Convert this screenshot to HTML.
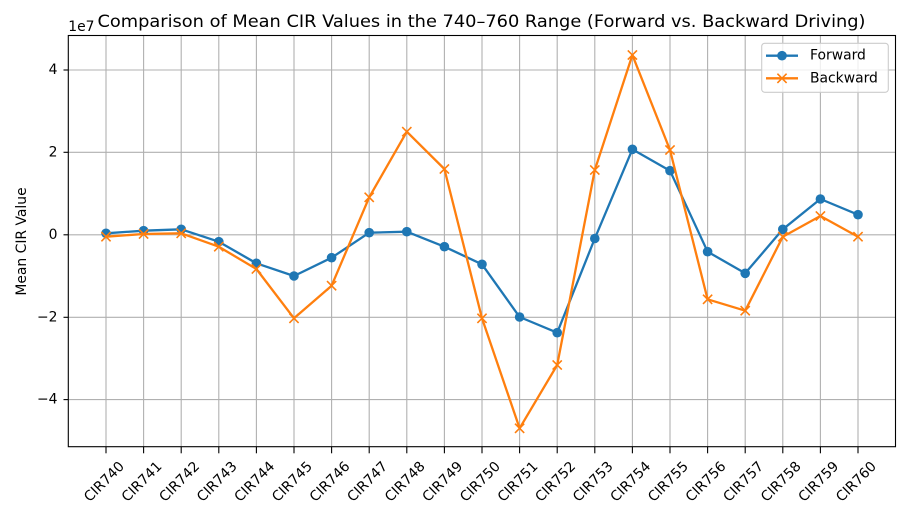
<!DOCTYPE html>
<html><head><meta charset="utf-8"><style>
html,body{margin:0;padding:0;background:#fff;}
svg{display:block;}
text{font-family:"DejaVu Sans","Liberation Sans",sans-serif;fill:#000;}
</style></head><body>
<svg width="916" height="527" viewBox="0 0 916 527" xmlns="http://www.w3.org/2000/svg">
<rect x="0" y="0" width="916" height="527" fill="#fff"/>
<!-- grid -->
<g stroke="#b0b0b0" stroke-width="1.1">
<line x1="106" y1="35.5" x2="106" y2="446.7"/>
<line x1="143.6" y1="35.5" x2="143.6" y2="446.7"/>
<line x1="181.2" y1="35.5" x2="181.2" y2="446.7"/>
<line x1="218.8" y1="35.5" x2="218.8" y2="446.7"/>
<line x1="256.4" y1="35.5" x2="256.4" y2="446.7"/>
<line x1="294" y1="35.5" x2="294" y2="446.7"/>
<line x1="331.6" y1="35.5" x2="331.6" y2="446.7"/>
<line x1="369.2" y1="35.5" x2="369.2" y2="446.7"/>
<line x1="406.8" y1="35.5" x2="406.8" y2="446.7"/>
<line x1="444.4" y1="35.5" x2="444.4" y2="446.7"/>
<line x1="482" y1="35.5" x2="482" y2="446.7"/>
<line x1="519.6" y1="35.5" x2="519.6" y2="446.7"/>
<line x1="557.2" y1="35.5" x2="557.2" y2="446.7"/>
<line x1="594.8" y1="35.5" x2="594.8" y2="446.7"/>
<line x1="632.4" y1="35.5" x2="632.4" y2="446.7"/>
<line x1="670" y1="35.5" x2="670" y2="446.7"/>
<line x1="707.6" y1="35.5" x2="707.6" y2="446.7"/>
<line x1="745.2" y1="35.5" x2="745.2" y2="446.7"/>
<line x1="782.8" y1="35.5" x2="782.8" y2="446.7"/>
<line x1="820.4" y1="35.5" x2="820.4" y2="446.7"/>
<line x1="858" y1="35.5" x2="858" y2="446.7"/>
<line x1="68.3" y1="70" x2="895.5" y2="70"/>
<line x1="68.3" y1="152.3" x2="895.5" y2="152.3"/>
<line x1="68.3" y1="234.8" x2="895.5" y2="234.8"/>
<line x1="68.3" y1="317.3" x2="895.5" y2="317.3"/>
<line x1="68.3" y1="399.6" x2="895.5" y2="399.6"/>
</g>
<!-- Forward -->
<polyline fill="none" stroke="#1f77b4" stroke-width="2.3" stroke-linejoin="round" points="106,233.3 143.6,230.7 181.2,229.3 218.8,241.7 256.4,263.3 294,276 331.6,257.7 369.2,232.7 406.8,231.7 444.4,246.7 482,264.3 519.6,317 557.2,332.7 594.8,238.5 632.4,149.3 670,170.7 707.6,251.7 745.2,273.3 782.8,229.3 820.4,199 858,214.7"/>
<g fill="#1f77b4">
<circle cx="106" cy="233.3" r="4.8"/><circle cx="143.6" cy="230.7" r="4.8"/><circle cx="181.2" cy="229.3" r="4.8"/><circle cx="218.8" cy="241.7" r="4.8"/><circle cx="256.4" cy="263.3" r="4.8"/><circle cx="294" cy="276" r="4.8"/><circle cx="331.6" cy="257.7" r="4.8"/><circle cx="369.2" cy="232.7" r="4.8"/><circle cx="406.8" cy="231.7" r="4.8"/><circle cx="444.4" cy="246.7" r="4.8"/><circle cx="482" cy="264.3" r="4.8"/><circle cx="519.6" cy="317" r="4.8"/><circle cx="557.2" cy="332.7" r="4.8"/><circle cx="594.8" cy="238.5" r="4.8"/><circle cx="632.4" cy="149.3" r="4.8"/><circle cx="670" cy="170.7" r="4.8"/><circle cx="707.6" cy="251.7" r="4.8"/><circle cx="745.2" cy="273.3" r="4.8"/><circle cx="782.8" cy="229.3" r="4.8"/><circle cx="820.4" cy="199" r="4.8"/><circle cx="858" cy="214.7" r="4.8"/>
</g>
<!-- Backward -->
<polyline fill="none" stroke="#ff7f0e" stroke-width="2.3" stroke-linejoin="round" points="106,236.7 143.6,234 181.2,233.3 218.8,246.7 256.4,269 294,318.3 331.6,285.7 369.2,197.3 406.8,131.7 444.4,169 482,318.3 519.6,428.3 557.2,365 594.8,170 632.4,55 670,150 707.6,299.3 745.2,310.7 782.8,236.7 820.4,216 858,236.7"/>
<g stroke="#ff7f0e" stroke-width="1.6" fill="none">
<path d="M101.4,232.1l9.2,9.2M101.4,241.3l9.2,-9.2"/>
<path d="M139,229.4l9.2,9.2M139,238.6l9.2,-9.2"/>
<path d="M176.6,228.7l9.2,9.2M176.6,237.9l9.2,-9.2"/>
<path d="M214.2,242.1l9.2,9.2M214.2,251.3l9.2,-9.2"/>
<path d="M251.8,264.4l9.2,9.2M251.8,273.6l9.2,-9.2"/>
<path d="M289.4,313.7l9.2,9.2M289.4,322.9l9.2,-9.2"/>
<path d="M327,281.1l9.2,9.2M327,290.3l9.2,-9.2"/>
<path d="M364.6,192.7l9.2,9.2M364.6,201.9l9.2,-9.2"/>
<path d="M402.2,127.1l9.2,9.2M402.2,136.3l9.2,-9.2"/>
<path d="M439.8,164.4l9.2,9.2M439.8,173.6l9.2,-9.2"/>
<path d="M477.4,313.7l9.2,9.2M477.4,322.9l9.2,-9.2"/>
<path d="M515,423.7l9.2,9.2M515,432.9l9.2,-9.2"/>
<path d="M552.6,360.4l9.2,9.2M552.6,369.6l9.2,-9.2"/>
<path d="M590.2,165.4l9.2,9.2M590.2,174.6l9.2,-9.2"/>
<path d="M627.8,50.4l9.2,9.2M627.8,59.6l9.2,-9.2"/>
<path d="M665.4,145.4l9.2,9.2M665.4,154.6l9.2,-9.2"/>
<path d="M703,294.7l9.2,9.2M703,303.9l9.2,-9.2"/>
<path d="M740.6,306.1l9.2,9.2M740.6,315.3l9.2,-9.2"/>
<path d="M778.2,232.1l9.2,9.2M778.2,241.3l9.2,-9.2"/>
<path d="M815.8,211.4l9.2,9.2M815.8,220.6l9.2,-9.2"/>
<path d="M853.4,232.1l9.2,9.2M853.4,241.3l9.2,-9.2"/>
</g>
<!-- axes frame -->
<rect x="68.3" y="35.5" width="827.2" height="411.2" fill="none" stroke="#000" stroke-width="1.1"/>
<!-- ticks -->
<g stroke="#000" stroke-width="1.1">
<line x1="106" y1="446.7" x2="106" y2="453.3"/><line x1="143.6" y1="446.7" x2="143.6" y2="453.3"/><line x1="181.2" y1="446.7" x2="181.2" y2="453.3"/><line x1="218.8" y1="446.7" x2="218.8" y2="453.3"/><line x1="256.4" y1="446.7" x2="256.4" y2="453.3"/><line x1="294" y1="446.7" x2="294" y2="453.3"/><line x1="331.6" y1="446.7" x2="331.6" y2="453.3"/><line x1="369.2" y1="446.7" x2="369.2" y2="453.3"/><line x1="406.8" y1="446.7" x2="406.8" y2="453.3"/><line x1="444.4" y1="446.7" x2="444.4" y2="453.3"/><line x1="482" y1="446.7" x2="482" y2="453.3"/><line x1="519.6" y1="446.7" x2="519.6" y2="453.3"/><line x1="557.2" y1="446.7" x2="557.2" y2="453.3"/><line x1="594.8" y1="446.7" x2="594.8" y2="453.3"/><line x1="632.4" y1="446.7" x2="632.4" y2="453.3"/><line x1="670" y1="446.7" x2="670" y2="453.3"/><line x1="707.6" y1="446.7" x2="707.6" y2="453.3"/><line x1="745.2" y1="446.7" x2="745.2" y2="453.3"/><line x1="782.8" y1="446.7" x2="782.8" y2="453.3"/><line x1="820.4" y1="446.7" x2="820.4" y2="453.3"/><line x1="858" y1="446.7" x2="858" y2="453.3"/>
<line x1="63.5" y1="70" x2="68.3" y2="70"/><line x1="63.5" y1="152.3" x2="68.3" y2="152.3"/><line x1="63.5" y1="234.8" x2="68.3" y2="234.8"/><line x1="63.5" y1="317.3" x2="68.3" y2="317.3"/><line x1="63.5" y1="399.6" x2="68.3" y2="399.6"/>
</g>
<!-- y tick labels -->
<g font-size="13.9" text-anchor="end" dominant-baseline="central">
<text x="57.5" y="70">4</text>
<text x="57.5" y="152.3">2</text>
<text x="57.5" y="234.8">0</text>
<text x="57.5" y="317.3">−2</text>
<text x="57.5" y="399.6">−4</text>
</g>
<!-- x tick labels -->
<g font-size="13.9" text-anchor="middle" dominant-baseline="central">
<text transform="translate(104.5,482) rotate(-45)">CIR740</text>
<text transform="translate(142.1,482) rotate(-45)">CIR741</text>
<text transform="translate(179.7,482) rotate(-45)">CIR742</text>
<text transform="translate(217.3,482) rotate(-45)">CIR743</text>
<text transform="translate(254.9,482) rotate(-45)">CIR744</text>
<text transform="translate(292.5,482) rotate(-45)">CIR745</text>
<text transform="translate(330.1,482) rotate(-45)">CIR746</text>
<text transform="translate(367.7,482) rotate(-45)">CIR747</text>
<text transform="translate(405.3,482) rotate(-45)">CIR748</text>
<text transform="translate(442.9,482) rotate(-45)">CIR749</text>
<text transform="translate(480.5,482) rotate(-45)">CIR750</text>
<text transform="translate(518.1,482) rotate(-45)">CIR751</text>
<text transform="translate(555.7,482) rotate(-45)">CIR752</text>
<text transform="translate(593.3,482) rotate(-45)">CIR753</text>
<text transform="translate(630.9,482) rotate(-45)">CIR754</text>
<text transform="translate(668.5,482) rotate(-45)">CIR755</text>
<text transform="translate(706.1,482) rotate(-45)">CIR756</text>
<text transform="translate(743.7,482) rotate(-45)">CIR757</text>
<text transform="translate(781.3,482) rotate(-45)">CIR758</text>
<text transform="translate(818.9,482) rotate(-45)">CIR759</text>
<text transform="translate(856.5,482) rotate(-45)">CIR760</text>
</g>
<!-- offset text -->
<text x="68.3" y="31" font-size="13.9">1e7</text>
<!-- y label -->
<text transform="translate(26,241.5) rotate(-90)" font-size="13.9" text-anchor="middle">Mean CIR Value</text>
<!-- title -->
<text x="481.5" y="27" font-size="16.7" text-anchor="middle" textLength="768" lengthAdjust="spacingAndGlyphs">Comparison of Mean CIR Values in the 740–760 Range (Forward vs. Backward Driving)</text>
<!-- legend -->
<rect x="761.7" y="43.3" width="126.6" height="49" rx="3" ry="3" fill="#fff" fill-opacity="0.8" stroke="#cccccc" stroke-width="1.1"/>
<line x1="766" y1="55.7" x2="798" y2="55.7" stroke="#1f77b4" stroke-width="2.3"/>
<circle cx="782" cy="55.7" r="4.8" fill="#1f77b4"/>
<line x1="766" y1="78.3" x2="798" y2="78.3" stroke="#ff7f0e" stroke-width="2.3"/>
<path d="M777.4,73.7l9.2,9.2M777.4,82.9l9.2,-9.2" stroke="#ff7f0e" stroke-width="1.6"/>
<text x="810" y="55.7" font-size="13.9" dominant-baseline="central">Forward</text>
<text x="810" y="78.3" font-size="13.9" dominant-baseline="central">Backward</text>
</svg>
</body></html>
